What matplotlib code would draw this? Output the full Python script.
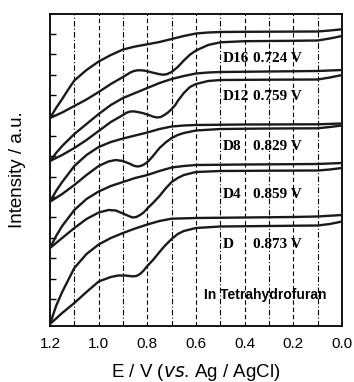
import numpy as np
import matplotlib
matplotlib.use("Agg")
import matplotlib.pyplot as plt

# potential (V vs Ag/AgCl) and intensity (a.u.)
d16_up_E = [1.2, 1.175, 1.15, 1.125, 1.1, 1.05, 1.0, 0.95, 0.9, 0.85, 0.8, 0.75, 0.7, 0.65, 0.6, 0.55, 0.5, 0.4, 0.3, 0.2, 0.1, 0.05, 0.0]
d16_up_I = [208, 218, 227, 236.5, 245.5, 256, 264.5, 271, 276.5, 279.5, 281.7, 284, 287, 290, 292.5, 293.5, 294, 294.2, 294.3, 294.4, 294.5, 295.5, 296.7]
d16_lo_E = [1.2, 1.15, 1.1, 1.05, 1.0, 0.95, 0.9, 0.87, 0.855, 0.84, 0.825, 0.81, 0.78, 0.75, 0.735, 0.72, 0.7, 0.675, 0.65, 0.625, 0.6, 0.55, 0.5, 0.4, 0.2, 0.1, 0.05, 0.0]
d16_lo_I = [208, 213.5, 220, 226.5, 234, 242, 249, 253.5, 255, 255.7, 255.7, 255.3, 253.5, 251.8, 251.3, 251.8, 254, 259, 265.5, 271.3, 275.5, 281, 283.7, 284.8, 285.2, 285.5, 287.5, 290]

d12_up_E = [1.2, 1.175, 1.15, 1.1, 1.05, 1.0, 0.95, 0.9, 0.85, 0.8, 0.75, 0.7, 0.65, 0.6, 0.55, 0.5, 0.3, 0.1, 0.05, 0.0]
d12_up_I = [165, 173, 180, 192, 202, 212, 221, 228, 233, 238, 243, 247, 250, 252.5, 253.5, 254, 254.5, 255, 255.5, 256]
d12_lo_E = [1.2, 1.15, 1.1, 1.05, 1.0, 0.95, 0.9, 0.885, 0.87, 0.855, 0.84, 0.82, 0.8, 0.775, 0.76, 0.745, 0.73, 0.715, 0.7, 0.685, 0.675, 0.65, 0.625, 0.6, 0.55, 0.5, 0.3, 0.1, 0.05, 0.0]
d12_lo_I = [165, 171, 178, 186, 195, 204, 211, 213.3, 214.5, 214.6, 214, 213, 211.5, 209.3, 208.5, 209, 211, 213.5, 217, 221, 225, 233, 239, 242, 245, 246, 246.3, 246.5, 248.5, 251]

d8_up_E = [1.2, 1.175, 1.15, 1.1, 1.05, 1.0, 0.95, 0.9, 0.85, 0.8, 0.75, 0.7, 0.65, 0.6, 0.4, 0.1, 0.0]
d8_up_I = [124.3, 135, 144, 160, 171, 179, 184, 187.5, 190.5, 193.5, 197, 199.5, 200.5, 201, 201.5, 201.7, 202.5]
d8_lo_E = [1.2, 1.15, 1.1, 1.05, 1.0, 0.96, 0.93, 0.9, 0.87, 0.855, 0.84, 0.825, 0.81, 0.795, 0.78, 0.765, 0.75, 0.725, 0.7, 0.675, 0.65, 0.6, 0.5, 0.3, 0.1, 0.05, 0.0]
d8_lo_I = [124.3, 132, 141, 151, 160, 164.5, 166, 165, 162, 160.2, 159.5, 160.2, 162, 165, 169, 173.5, 178, 183.5, 188, 191, 193, 195.5, 197, 197.5, 197.7, 199, 200.5]

d4_up_E = [1.2, 1.175, 1.15, 1.1, 1.05, 1.0, 0.95, 0.9, 0.85, 0.8, 0.75, 0.7, 0.65, 0.6, 0.4, 0.1, 0.0]
d4_up_I = [78, 90, 100, 116, 127, 134.5, 140, 144, 148, 151, 155, 158.5, 160, 161, 161.5, 162, 163]
d4_lo_E = [1.2, 1.15, 1.1, 1.05, 1.0, 0.96, 0.93, 0.9, 0.875, 0.86, 0.845, 0.83, 0.815, 0.8, 0.775, 0.75, 0.725, 0.7, 0.675, 0.65, 0.6, 0.5, 0.3, 0.1, 0.05, 0.0]
d4_lo_I = [78, 88, 98, 107, 113.5, 116, 115.5, 112.5, 109.8, 108.5, 109, 111, 113.5, 117.5, 123.5, 130, 137.5, 144, 148, 151, 154, 155, 155.3, 155.5, 156.5, 158]

d_up_E = [1.2, 1.175, 1.15, 1.1, 1.05, 1.0, 0.95, 0.9, 0.85, 0.8, 0.75, 0.7, 0.6, 0.4, 0.2, 0.1, 0.0]
d_up_I = [2, 20, 34, 58, 72, 81.5, 88, 93, 97.5, 101.5, 105, 107.3, 108, 108.5, 109, 109.5, 111]
d_lo_E = [1.2, 1.15, 1.1, 1.05, 1.0, 0.95, 0.92, 0.89, 0.86, 0.845, 0.83, 0.815, 0.8, 0.775, 0.75, 0.725, 0.7, 0.675, 0.65, 0.6, 0.5, 0.3, 0.1, 0.05, 0.0]
d_lo_I = [2, 13, 23, 34, 44.5, 49, 50.5, 50.5, 49.6, 50, 52, 55.5, 60, 66.5, 74, 81, 87, 92, 95, 98, 99.5, 100, 100.5, 102, 104.5]

samples = ["D16", "D12", "D8", "D4", "D"]
half_wave = ["0.724 V", "0.759 V", "0.829 V", "0.859 V", "0.873 V"]
label_I = [268, 229, 180, 132, 81]

grid_E = [1.1, 1.0, 0.9, 0.8, 0.7, 0.6, 0.5, 0.4, 0.3, 0.2, 0.1]
xtick_E = [1.2, 1.0, 0.8, 0.6, 0.4, 0.2, 0.0]


def main():
    plt.rcParams["font.family"] = ["Liberation Sans", "DejaVu Sans"]
    fig = plt.figure(figsize=(3.54, 3.82), dpi=100)
    ax = fig.add_axes([50 / 354, 1 - 326 / 382, 292 / 354, 312 / 382])

    for i, e in enumerate(grid_E):
        ls = (0, (5, 2, 1, 2)) if i % 2 == 0 else (0, (4, 2.5))
        ax.axvline(e, color="black", lw=0.8, ls=ls, zorder=1)

    curves = [
        (d16_up_E, d16_up_I), (d16_lo_E, d16_lo_I),
        (d12_up_E, d12_up_I), (d12_lo_E, d12_lo_I),
        (d8_up_E, d8_up_I), (d8_lo_E, d8_lo_I),
        (d4_up_E, d4_up_I), (d4_lo_E, d4_lo_I),
        (d_up_E, d_up_I), (d_lo_E, d_lo_I),
    ]
    for E, I in curves:
        ax.plot(E, I, color="#1a1a1a", lw=1.7, solid_capstyle="round",
                solid_joinstyle="round", zorder=3)

    serif = ["Liberation Serif", "DejaVu Serif"]
    for name, pot, yv in zip(samples, half_wave, label_I):
        ax.text(0.489, yv, name, family=serif, fontweight="bold", fontsize=11,
                ha="left", va="center", zorder=4)
        ax.text(0.164, yv, pot, family=serif, fontweight="bold", fontsize=11,
                ha="right", va="center", zorder=4)

    ax.text(0.316, 31, "In Tetrahydrofuran", family=["Liberation Sans Narrow", "Liberation Sans"],
            fontweight="bold", fontsize=10, ha="center", va="center", zorder=4)

    ax.set_xlim(1.2, 0.0)
    ax.set_ylim(0, 312)
    ax.set_xticks(xtick_E)
    ax.set_xticklabels([f"{v:.1f}" for v in xtick_E])
    ax.set_yticks(np.arange(27, 300, 20.4))
    ax.set_yticklabels([])
    ax.tick_params(axis="x", length=0, pad=8, labelsize=11)
    ax.tick_params(axis="y", direction="in", length=4, width=1)
    for sp in ax.spines.values():
        sp.set_linewidth(1.3)

    ax.set_xlabel("E / V ($\\it{vs}$. Ag / AgCl)", fontsize=13.5, labelpad=8)
    ax.set_ylabel("Intensity / a.u.", fontsize=13.5)
    ax.yaxis.set_label_coords(-24 / 292, 0.5)

    fig.savefig("out.png", dpi=100)
    plt.close(fig)


if __name__ == "__main__":
    main()
